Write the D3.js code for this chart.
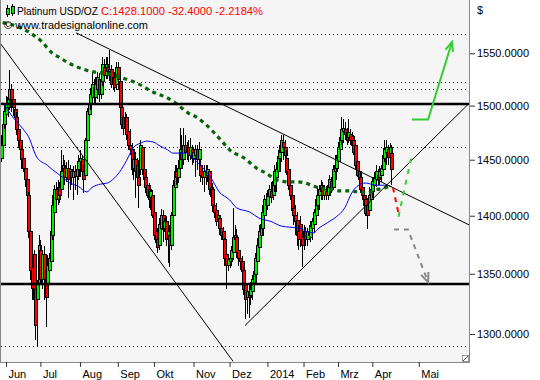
<!DOCTYPE html>
<html><head><meta charset="utf-8">
<script src="https://cdn.jsdelivr.net/npm/d3@7"></script>
<style>
html,body{margin:0;padding:0;background:#fff;}
svg{display:block;font-family:"Liberation Sans",Arial,sans-serif;}
</style></head><body>
<svg id="chart" width="540" height="380"></svg>
<script>
// ---- daily OHLC, Platinum USD/OZ (trading days from end of May 2013) ----
const open=[1451,1463,1482,1492,1498,1506,1515,1506,1496,1489,
1478,1468,1459,1451,1442,1432,1418,1386,1355,1366,
1337,1328,1341,1370,1345,1366,1353,1341,1353,1360,
1383,1403,1423,1414,1425,1423,1439,1442,1434,1442,
1434,1439,1434,1439,1435,1441,1448,1450,1439,1436,
1468,1492,1501,1508,1517,1508,1515,1525,1510,1523,
1536,1529,1536,1532,1534,1520,1527,1520,1536,1523,
1498,1489,1479,1489,1476,1463,1459,1442,1450,1445,
1434,1441,1461,1441,1434,1427,1423,1416,1418,1403,
1386,1379,1374,1389,1400,1389,1395,1379,1383,1374,
1400,1425,1439,1434,1442,1457,1450,1463,1457,1461,
1454,1459,1451,1454,1459,1450,1445,1439,1434,1439,
1436,1439,1425,1423,1409,1405,1396,1398,1389,1386,
1379,1366,1357,1360,1363,1368,1379,1381,1370,1363,
1360,1353,1341,1330,1335,1332,1335,1343,1349,1360,
1372,1383,1389,1400,1414,1409,1417,1421,1418,1427,
1434,1439,1451,1457,1466,1461,1451,1441,1427,1418,
1406,1400,1396,1386,1392,1381,1379,1386,1379,1386,
1381,1389,1392,1400,1409,1418,1421,1425,1418,1421,
1418,1425,1430,1425,1439,1442,1448,1459,1468,1476,
1478,1475,1470,1473,1471,1468,1463,1448,1439,1434,
1425,1418,1414,1409,1405,1414,1421,1427,1432,1436,
1434,1436,1441,1451,1457,1459,1454,1456];
const high=[1473,1492,1501,1509,1513,1534,1520,1510,1501,1494,
1482,1473,1463,1459,1447,1436,1421,1389,1372,1370,
1342,1345,1383,1379,1370,1374,1360,1366,1368,1389,
1418,1427,1430,1432,1430,1459,1454,1450,1448,1450,
1445,1442,1444,1445,1448,1454,1459,1454,1445,1470,
1498,1506,1517,1532,1525,1527,1532,1531,1529,1546,
1544,1546,1546,1553,1539,1532,1532,1542,1542,1525,
1501,1498,1494,1492,1482,1478,1465,1459,1457,1452,
1450,1468,1463,1448,1439,1434,1429,1427,1423,1406,
1395,1389,1398,1406,1405,1398,1400,1389,1392,1403,
1432,1445,1445,1450,1479,1473,1479,1473,1466,1468,
1470,1463,1461,1463,1463,1466,1451,1445,1445,1445,
1445,1442,1432,1429,1414,1411,1405,1401,1395,1390,
1381,1370,1366,1366,1374,1407,1392,1388,1376,1370,
1365,1357,1345,1341,1341,1343,1349,1357,1368,1381,
1392,1398,1409,1418,1420,1423,1427,1430,1434,1445,
1448,1459,1463,1473,1473,1468,1459,1448,1436,1425,
1414,1409,1403,1392,1400,1389,1392,1390,1389,1392,
1395,1398,1406,1418,1425,1427,1432,1430,1427,1426,
1432,1436,1434,1445,1454,1454,1466,1475,1489,1487,
1485,1479,1487,1478,1475,1473,1466,1451,1445,1439,
1432,1423,1418,1416,1425,1427,1434,1439,1445,1442,
1444,1445,1461,1468,1468,1463,1465,1463];
const low=[1448,1459,1478,1487,1489,1496,1494,1490,1482,1473,
1461,1452,1442,1439,1425,1414,1381,1345,1328,1320,
1295,1290,1335,1341,1337,1328,1306,1337,1341,1355,
1379,1400,1403,1409,1411,1418,1427,1427,1430,1416,
1423,1427,1414,1423,1418,1432,1434,1432,1420,1432,
1463,1485,1496,1501,1501,1502,1506,1503,1506,1519,
1522,1525,1525,1523,1517,1515,1513,1515,1515,1490,
1478,1473,1473,1468,1459,1454,1436,1432,1416,1427,
1407,1436,1436,1427,1420,1416,1407,1405,1398,1379,
1372,1368,1370,1379,1377,1386,1374,1359,1356,1370,
1396,1421,1427,1429,1439,1442,1445,1450,1450,1448,
1450,1445,1447,1434,1441,1445,1430,1427,1421,1427,
1430,1418,1414,1403,1398,1391,1389,1383,1379,1374,
1357,1337,1352,1355,1357,1362,1372,1363,1357,1353,
1347,1332,1312,1316,1313,1324,1328,1337,1342,1352,
1366,1379,1383,1395,1403,1405,1409,1411,1414,1421,
1421,1434,1439,1448,1450,1438,1436,1423,1414,1400,
1392,1383,1374,1370,1373,1356,1370,1374,1374,1379,
1377,1379,1385,1395,1405,1405,1414,1414,1414,1414,
1414,1418,1420,1423,1432,1432,1443,1454,1463,1465,
1468,1463,1465,1463,1459,1454,1441,1434,1427,1420,
1414,1403,1400,1388,1400,1409,1416,1421,1425,1427,
1427,1430,1438,1448,1445,1445,1448,1427];
const close=[1463,1482,1494,1501,1508,1515,1506,1498,1489,1478,
1468,1459,1450,1442,1432,1418,1386,1353,1338,1328,
1307,1341,1374,1345,1366,1345,1330,1357,1363,1386,
1409,1423,1414,1425,1418,1439,1445,1434,1442,1432,
1441,1434,1439,1435,1441,1448,1451,1439,1432,1468,
1494,1501,1510,1520,1508,1520,1527,1510,1525,1539,
1529,1539,1532,1534,1520,1527,1517,1536,1525,1498,
1482,1479,1489,1473,1463,1459,1441,1450,1439,1434,
1427,1463,1441,1432,1425,1418,1414,1421,1400,1383,
1377,1372,1392,1400,1388,1395,1379,1386,1374,1400,
1427,1439,1434,1442,1459,1450,1463,1457,1461,1454,
1461,1451,1457,1459,1450,1459,1436,1434,1439,1434,
1441,1423,1417,1409,1403,1395,1400,1389,1383,1379,
1363,1357,1362,1363,1370,1381,1383,1368,1363,1360,
1352,1337,1328,1335,1330,1337,1345,1352,1363,1374,
1386,1392,1403,1414,1409,1417,1423,1416,1430,1439,
1441,1453,1457,1468,1461,1454,1439,1427,1418,1405,
1400,1395,1383,1379,1379,1374,1386,1379,1386,1383,
1391,1395,1403,1414,1418,1423,1427,1418,1423,1418,
1427,1432,1423,1441,1445,1451,1461,1470,1478,1479,
1473,1468,1475,1468,1463,1457,1445,1436,1432,1423,
1418,1409,1402,1400,1418,1423,1430,1434,1439,1432,
1439,1442,1454,1459,1461,1452,1461,1441];

// ---- moving averages (trading-day index, price) ----
const maBlueDays=[1,4,8,13,17,19,21,27,30,36,39,45,50,53,58,62,65,70,74,77,81,85,89,92,97,100,104,108,112,116,122,127,133,137,145,150,157,163,168,174,178,182,184,190,195,200,204,208,212,218,223,227];
const maBlueVals=[1503,1496,1487,1478,1468,1459,1452,1445,1441,1434,1430,1426,1421,1425,1428,1429,1432,1441,1452,1461,1465,1467,1466,1463,1459,1456,1456,1456,1451,1445,1434,1421,1414,1407,1403,1398,1395,1391,1390,1389,1386,1385,1388,1394,1399,1407,1420,1427,1429,1427,1427,1426];
const maGreenDays=[1,10,17,24,30,34,39,44,49,54,59,63,68,73,78,83,87,91,96,101,105,109,113,118,122,125,129,133,137,141,145,149,154,158,162,167,172,177,182,187,193,197,202,208,213,218,222,227];
const maGreenVals=[1580,1576,1570,1561,1550,1546,1541,1537,1534,1532,1531,1530,1528,1525,1522,1518,1514,1511,1508,1503,1498,1493,1490,1484,1478,1473,1466,1459,1455,1452,1447,1442,1438,1434,1431,1430,1430,1429,1426,1424,1423,1422,1422,1421,1420,1423,1424,1427];

// ---- horizontal levels ----
const thickLevels=[1501.5,1341.4];
const blueDotLevels=[1568.6,1515.4,1461.9,1289.9];
const blackDotLevels=[1522.1];

// ---- trend lines [day, price] ----
const trend1=[[0,1559],[135,1278]];
const trend2=[[43.7,1570],[272.2,1392]];
const trend3=[[142,1307],[272.2,1502]];

// ---- projection drawings ----
const projRed=[[228,1425],[231.5,1400]];
const projGreenDash=[[231.2,1399],[238.5,1451]];
const projGreenSolid=[[239,1487],[248.4,1487],[262.3,1561]];
const projGray=[[228.6,1388],[236.7,1388],[248.4,1343]];

// ---- axes ----
const yTicks=[1300,1350,1400,1450,1500,1550];
const monthLabels=["Jun","Jul","Aug","Sep","Okt","Nov","Dez","2014","Feb","Mrz","Apr","Mai"];
const monthDays=[3,23,46,68,89,112,133,155,176,196,216,243];

const PL=1,PR=469,PT=0,PB=362;
const x=d3.scaleLinear().domain([0,272.2]).range([0.84,469]);
const y=d3.scaleLog().domain([1277.4,1602.6]).range([PB,PT]);

const svg=d3.select("#chart");
svg.append("rect").attr("x",0).attr("y",0).attr("width",540).attr("height",380).attr("fill","#ffffff");
svg.append("rect").attr("x",PL).attr("y",PT).attr("width",PR-PL).attr("height",PB-PT).attr("fill","#f5f5f5");
svg.append("defs").append("clipPath").attr("id","clip")
  .append("rect").attr("x",PL).attr("y",PT).attr("width",PR-PL).attr("height",PB-PT);
const g=svg.append("g").attr("clip-path","url(#clip)");

function hLines(levels,color,width,dash,crispHalf){
  g.append("g").selectAll("line").data(levels).join("line")
    .attr("x1",PL).attr("x2",PR)
    .attr("y1",d=>Math.round(y(d))+(crispHalf?0.5:0))
    .attr("y2",d=>Math.round(y(d))+(crispHalf?0.5:0))
    .attr("stroke",color).attr("stroke-width",width)
    .attr("stroke-dasharray",dash);
}
hLines(blueDotLevels,"#0000e6",1,"1,3",true);
hLines(blackDotLevels,"#000000",1,"1,3",true);

// candles
const idx=d3.range(close.length);
const cg=g.append("g").attr("shape-rendering","crispEdges");
idx.forEach(i=>{
  const cx=Math.round(x(i));
  const grp=cg.append("g");
  grp.append("line").attr("x1",cx+0.5).attr("x2",cx+0.5)
    .attr("y1",y(high[i])).attr("y2",y(low[i])).attr("stroke","#000").attr("stroke-width",1);
  const top=y(Math.max(open[i],close[i])), bot=y(Math.min(open[i],close[i]));
  grp.append("rect").attr("x",cx-1).attr("width",3)
    .attr("y",top).attr("height",Math.max(1,bot-top))
    .attr("fill",close[i]>=open[i]?"#00ee00":"#ff0000")
    .attr("stroke","#000").attr("stroke-width",1);
});

// moving averages
const maLine=d3.line().x(d=>x(d[0])).y(d=>y(d[1])).curve(d3.curveMonotoneX);
g.append("path").datum(maBlueDays.map((d,i)=>[d,maBlueVals[i]]))
  .attr("d",maLine).attr("fill","none").attr("stroke","#0000ff").attr("stroke-width",1);
g.append("path").datum(maGreenDays.map((d,i)=>[d,maGreenVals[i]]))
  .attr("d",maLine).attr("fill","none").attr("stroke","#0a640a").attr("stroke-width",3.2)
  .attr("stroke-dasharray","4,4");

hLines(thickLevels,"#000000",2.5,null,false);

// trend lines
const straight=d3.line().x(d=>x(d[0])).y(d=>y(d[1]));
[trend1,trend2,trend3].forEach(t=>{
  g.append("path").datum(t).attr("d",straight).attr("fill","none")
    .attr("stroke","#000").attr("stroke-width",1);
});

// projections
function arrowHead(p0,p1,color){
  const x0=x(p0[0]),y0=y(p0[1]),x1=x(p1[0]),y1=y(p1[1]);
  const a=Math.atan2(y1-y0,x1-x0),L=10,s=0.4;
  const pa=[x1-L*Math.cos(a-s),y1-L*Math.sin(a-s)];
  const pb=[x1-L*Math.cos(a+s),y1-L*Math.sin(a+s)];
  g.append("path").attr("d",`M${pa[0]},${pa[1]}L${x1},${y1}L${pb[0]},${pb[1]}`)
    .attr("fill","none").attr("stroke",color).attr("stroke-width",2);
}
g.append("path").datum(projRed).attr("d",straight).attr("fill","none")
  .attr("stroke","#ff0000").attr("stroke-width",2).attr("stroke-dasharray","5,5");
g.append("path").datum(projGreenDash).attr("d",straight).attr("fill","none")
  .attr("stroke","#33cc33").attr("stroke-width",2).attr("stroke-dasharray","5,6");
g.append("path").datum(projGreenSolid).attr("d",straight).attr("fill","none")
  .attr("stroke","#33cc33").attr("stroke-width",2);
arrowHead(projGreenSolid[1],projGreenSolid[2],"#33cc33");
g.append("path").datum(projGray).attr("d",straight).attr("fill","none")
  .attr("stroke","#888888").attr("stroke-width",2).attr("stroke-dasharray","5,5");
arrowHead(projGray[1],projGray[2],"#888888");

// frame
const fr=svg.append("g").attr("shape-rendering","crispEdges").attr("stroke","#888");
fr.append("line").attr("x1",0.5).attr("x2",0.5).attr("y1",0).attr("y2",PB+0.5);
fr.append("line").attr("x1",PR+0.5).attr("x2",PR+0.5).attr("y1",0).attr("y2",PB+0.5);
fr.append("line").attr("x1",0).attr("x2",PR+1).attr("y1",PB+0.5).attr("y2",PB+0.5);
// resize glyph
svg.append("rect").attr("x",462.5).attr("y",355.5).attr("width",6).attr("height",6)
  .attr("fill","#fff").attr("stroke","#999");
svg.append("line").attr("x1",463).attr("y1",361).attr("x2",468).attr("y2",356).attr("stroke","#555");

// y axis (right)
const yAxis=d3.axisRight(y).tickValues(yTicks).tickFormat(d3.format(".4f")).tickSize(5).tickPadding(2);
const ya=svg.append("g").attr("transform",`translate(${PR+1},0)`).call(yAxis);
ya.select(".domain").remove();
ya.attr("font-size",11).attr("font-family",'"Liberation Sans",Arial,sans-serif');
ya.selectAll("line").attr("stroke","#333");
ya.selectAll("text").attr("fill","#000");
svg.append("text").attr("x",477).attr("y",14).attr("font-size",11).text("$");

// x axis
const xAxis=d3.axisBottom(x).tickValues(monthDays).tickFormat((d,i)=>monthLabels[i]).tickSize(5).tickPadding(3).tickSizeOuter(0);
const xa=svg.append("g").attr("transform",`translate(0,${PB})`).call(xAxis);
xa.select(".domain").remove();
xa.attr("font-size",11).attr("font-family",'"Liberation Sans",Arial,sans-serif');
xa.selectAll("line").attr("stroke","#333");
xa.selectAll("text").attr("text-anchor","start").attr("x",2).attr("fill","#000");

// legend
const lg=svg.append("g").attr("shape-rendering","crispEdges");
lg.append("line").attr("x1",7.5).attr("x2",7.5).attr("y1",5).attr("y2",17).attr("stroke","#000");
lg.append("rect").attr("x",6.5).attr("y",8.5).attr("width",3).attr("height",6).attr("fill","#00ee00").attr("stroke","#000");
lg.append("line").attr("x1",12.5).attr("x2",12.5).attr("y1",4).attr("y2",16).attr("stroke","#000");
lg.append("rect").attr("x",11.5).attr("y",6.5).attr("width",3).attr("height",7).attr("fill","#00ee00").attr("stroke","#000");
svg.append("text").attr("x",17).attr("y",14.5).attr("font-size",11.5)
  .attr("textLength",81).attr("lengthAdjust","spacingAndGlyphs").attr("fill","#000").text("Platinum USD/OZ");
svg.append("text").attr("x",101).attr("y",14.5).attr("font-size",11.5)
  .attr("textLength",162).attr("lengthAdjust","spacingAndGlyphs").attr("fill","#ff0000").text("C:1428.1000 -32.4000 -2.2184%");
svg.append("text").attr("x",4).attr("y",29).attr("font-size",11.5)
  .attr("textLength",144).attr("lengthAdjust","spacingAndGlyphs").attr("fill","#000").text("© www.tradesignalonline.com");
</script>
</body></html>
